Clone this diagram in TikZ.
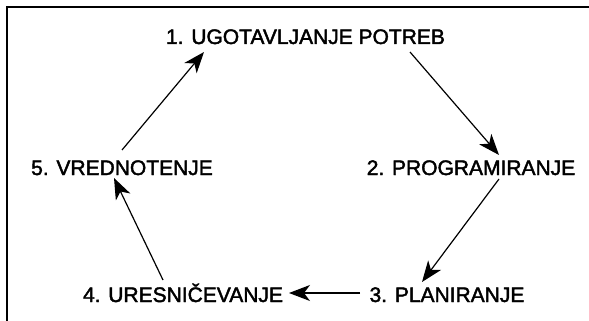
\documentclass[tikz,border=0pt]{standalone}
\usepackage{fontspec}
\newfontfamily\lblfont{Liberation Sans}[FakeBold=2]
\usetikzlibrary{arrows.meta}
\begin{document}
\begin{tikzpicture}[x=1pt,y=-1pt,
  lbl/.style={inner sep=0pt,anchor=base,font=\lblfont\fontsize{21}{24}\selectfont},
  arr/.style={line width=1.2pt,-{Stealth[length=21pt,width=16pt,inset=6pt]}},
  frame/.style={line width=1.6pt}]
\useasboundingbox (0,0) rectangle (589,321);
\coordinate (tl) at (7,7);
\coordinate (tr) at (589,7);
\coordinate (bl) at (7,321);
\draw[frame] (tr) -- (tl) -- (bl);
\node[lbl] (n1) at (305.5,44) {1. UGOTAVLJANJE POTREB};
\node[lbl] (n2) at (471,175) {2. PROGRAMIRANJE};
\node[lbl] (n3) at (447,302) {3. PLANIRANJE};
\node[lbl] (n4) at (183,302) {4. URESNIČEVANJE};
\node[lbl] (n5) at (122,175) {5. VREDNOTENJE};
\draw[arr] ([xshift=104.5pt,yshift=-8pt]n1.base) -- ([xshift=28pt,yshift=20pt]n2.base);
\draw[arr] ([xshift=28pt,yshift=-4pt]n2.base) -- ([xshift=-25pt,yshift=20pt]n3.base);
\draw[arr] ([xshift=-87pt,yshift=9pt]n3.base) -- ([xshift=106pt,yshift=9pt]n4.base);
\draw[arr] ([xshift=-20pt,yshift=22pt]n4.base) -- ([xshift=-8pt,yshift=-3pt]n5.base);
\draw[arr] ([yshift=25pt]n5.base) -- ([xshift=-101.5pt,yshift=-8pt]n1.base);
\end{tikzpicture}
\end{document}
